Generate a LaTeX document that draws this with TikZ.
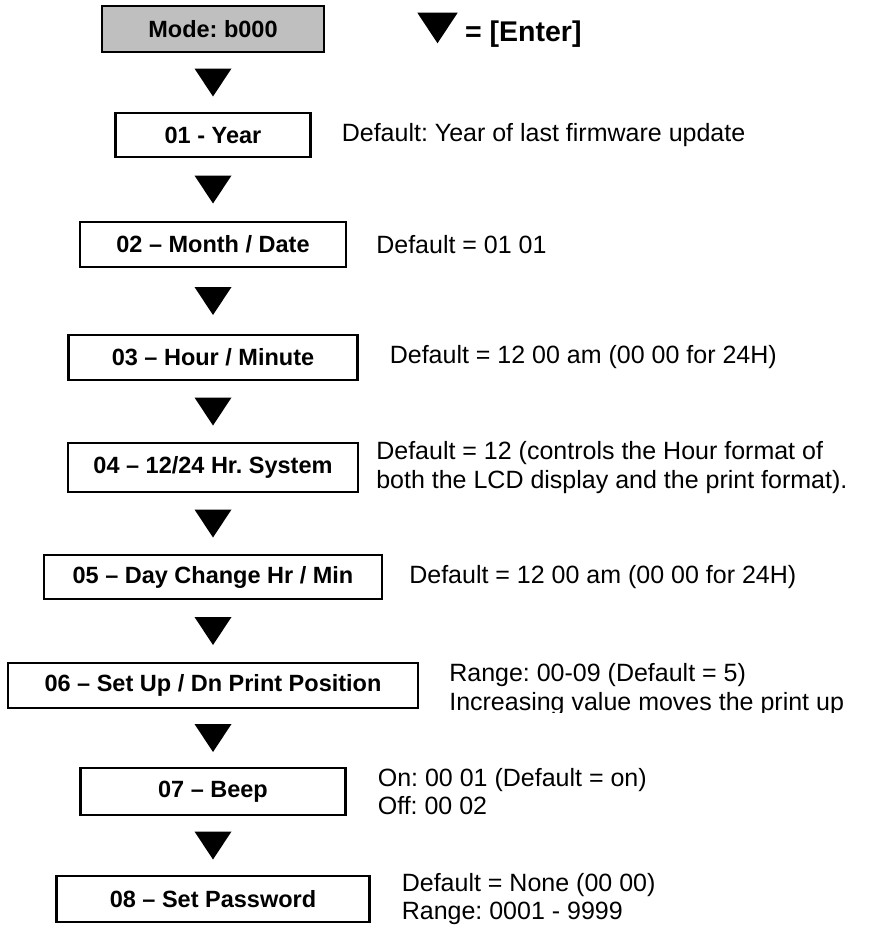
\documentclass[tikz,border=0pt]{standalone}
\usepackage{fontspec}
\setmainfont{Liberation Sans}
\usetikzlibrary{positioning}
\usetikzlibrary{decorations.markings}

\tikzset{
  menubox/.style={draw, line width=2.2pt, inner sep=0pt, minimum height=45pt,
    font=\fontsize{23.5}{28}\selectfont\bfseries},
  note/.style={inner sep=0pt, align=left, font=\fontsize{25}{28.5}\selectfont},
  keymark/.style={decoration={markings, mark=at position 0.5 with
    {\fill[scale=#1] (-14,-18.5) -- (-14,18.5) -- (14,0) -- cycle;}}, decorate},
  keymark/.default=1
}

\begin{document}
\frenchspacing
\begin{tikzpicture}[x=1pt, y=-1pt]
  \useasboundingbox (0,0) rectangle (880,926);

  % legend
  \coordinate (ktop) at (437.5,13);
  \coordinate (kbot) at (437.5,43);
  \path[keymark=1.09] (ktop) -- (kbot);
  \node[inner sep=0pt, anchor=base west, font=\fontsize{28.5}{30}\selectfont\bfseries] (enterkey) at (465,41.5) {= [Enter]};

  % menu steps
  \node[menubox, fill=gray!50, minimum width=222pt, minimum height=46pt] (mode) at (213,29) {Mode: b000};
  \node[menubox, minimum width=195pt, minimum height=44pt] (year) at (213,135) {01 - Year};
  \node[menubox, minimum width=266pt] (date) at (213,244.5) {02 – Month / Date};
  \node[menubox, minimum width=289pt] (clock) at (213,357.5) {03 – Hour / Minute};
  \node[menubox, minimum width=290pt, minimum height=49pt] (hrsys) at (213,467.5) {04 – 12/24 Hr. System};
  \node[menubox, minimum width=338pt, minimum height=44pt] (daychg) at (213,577) {05 – Day Change Hr / Min};
  \node[menubox, minimum width=410pt] (prpos) at (213,685.5) {06 – Set Up / Dn Print Position};
  \node[menubox, minimum width=265pt, minimum height=47pt] (beep) at (213,791.5) {07 – Beep};
  \node[menubox, minimum width=313pt, minimum height=46pt] (passwd) at (213,899) {08 – Set Password};

  % enter marks between the steps
  \foreach \a/\b in {mode/year, year/date, date/clock, clock/hrsys, hrsys/daychg, daychg/prpos, prpos/beep, beep/passwd}
    \path[keymark] (\a.south) -- (\b.north);

  % defaults
  \node[note, right=30pt of year] (yearnote) {Default: Year of last firmware update};
  \node[note, right=29pt of date] (datenote) {Default = 01 01};
  \node[note, right=31pt of clock] (clocknote) {Default = 12 00 am (00 00 for 24H)};
  \node[note, right=17pt of hrsys] (hrsysnote) {Default = 12 (controls the Hour format of\\both the LCD display and the print format).};
  \node[note, right=26pt of daychg] (daychgnote) {Default = 12 00 am (00 00 for 24H)};
  \begin{scope}
    \clip (0,650) rectangle (880,712);
    \node[note, right=30pt of prpos, yshift=-4pt] (prposnote) {Range: 00-09 (Default = 5)\\Increasing value moves the print up};
  \end{scope}
  \node[note, right=31pt of beep] (beepnote) {On: 00 01 (Default = on)\\Off: 00 02};
  \node[note, right=31pt of passwd] (passwdnote) {Default = None (00 00)\\Range: 0001 - 9999};
\end{tikzpicture}
\end{document}
